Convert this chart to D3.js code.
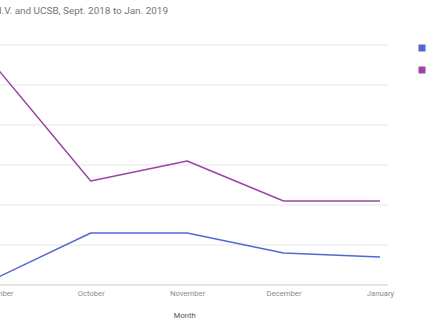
<!DOCTYPE html>
<html>
<head>
<meta charset="utf-8">
<script src="https://cdn.jsdelivr.net/npm/d3@7"></script>
<style>
  html, body { margin: 0; padding: 0; background: #fff; overflow: hidden; }
  svg { display: block; font-family: Roboto, "Noto Sans", sans-serif; }
</style>
</head>
<body>
<svg id="chart" width="430" height="330"></svg>
<script>
// Monthly counts, Sept. 2018 to Jan. 2019
const months = ["September", "October", "November", "December", "January"];
const seriesNames = ["UCSB", "I.V."];
const ucsbValues = [1.5, 13, 13, 8, 7];
const ivValues = [55, 26, 31, 21, 21];
const yTicks = [0, 10, 20, 30, 40, 50, 60];
const seriesColors = ["#5468d2", "#9a47a4"];

const svg = d3.select("#chart");

const x = d3.scalePoint().domain(months).range([-5.7, 380]);
const y = d3.scaleLinear().domain([0, 60]).range([285, 45]);

// horizontal gridlines
const grid = svg.append("g");
grid.selectAll("line")
  .data(yTicks.filter(d => d !== 0))
  .join("line")
  .attr("x1", -10).attr("x2", 388)
  .attr("y1", d => y(d)).attr("y2", d => y(d))
  .attr("stroke", "#e6e6e6").attr("stroke-width", 1);

// baseline
svg.append("line")
  .attr("x1", -10).attr("x2", 388)
  .attr("y1", y(0)).attr("y2", y(0))
  .attr("stroke", "#cccccc").attr("stroke-width", 1);

// month axis
const xAxis = svg.append("g")
  .attr("transform", `translate(0,${y(0)})`)
  .call(d3.axisBottom(x).tickSize(0).tickPadding(6));
xAxis.select(".domain").remove();
xAxis.selectAll("text")
  .attr("font-size", 7.7)
  .attr("font-family", "Roboto, sans-serif")
  .attr("fill", "#8c8c8c");

// axis title
svg.append("text")
  .attr("x", 184.7).attr("y", 318)
  .attr("text-anchor", "middle")
  .attr("font-size", 7.6)
  .attr("fill", "#555")
  .text("Month");

// chart title
svg.append("text")
  .attr("x", 168).attr("y", 14)
  .attr("text-anchor", "end")
  .attr("font-size", 9.95)
  .attr("fill", "#757575")
  .text("I.V. and UCSB, Sept. 2018 to Jan. 2019");

// lines
const line = d3.line()
  .x((d, i) => x(months[i]))
  .y(d => y(d));

[ucsbValues, ivValues].forEach((vals, k) => {
  svg.append("path")
    .datum(vals)
    .attr("d", line)
    .attr("fill", "none")
    .attr("stroke", seriesColors[k])
    .attr("stroke-width", 1.5)
    .attr("stroke-linejoin", "round");
});

// legend swatches
svg.selectAll("rect.legend")
  .data(seriesNames)
  .join("rect")
  .attr("class", "legend")
  .attr("x", 418.5)
  .attr("y", (d, i) => 44.5 + i * 22)
  .attr("width", 7).attr("height", 7)
  .attr("fill", (d, i) => seriesColors[i]);
</script>
</body>
</html>
